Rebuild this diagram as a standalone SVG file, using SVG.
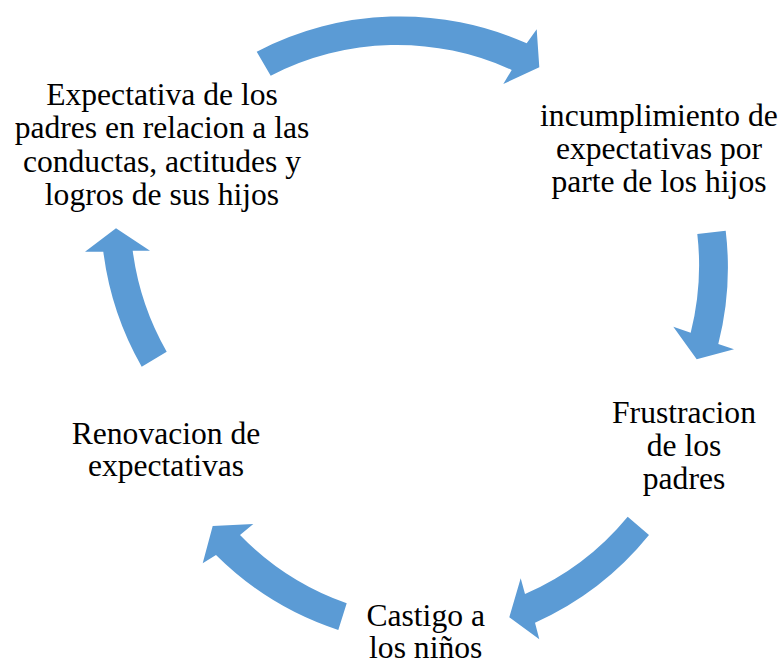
<svg xmlns="http://www.w3.org/2000/svg" width="784" height="663" viewBox="0 0 784 663">
<style>
.arrow{fill:#5B9BD5;stroke:none}
.lbl{font-family:"Liberation Serif","Times New Roman",serif;font-size:31.6px;fill:#000;text-anchor:middle}
</style>
<rect width="784" height="663" fill="#fff"/>
<g id="connectors">
<path class="arrow" d="M256.7,51.7 A310,310 0 0 1 526.7,43.3 L536.7,29.3 L539.3,67.3 L503.3,84 L511.7,70 A275,275 0 0 0 270.7,75.7 Z"/>
<path class="arrow" d="M725.7,230.7 A310,310 0 0 1 718.3,344 L734,349.3 L696.7,359.3 L673.3,326.7 L690.7,332.7 A275,275 0 0 0 697.3,234 Z"/>
<path class="arrow" d="M649,535 A310,310 0 0 1 535,622.7 L539.3,639.3 L509.3,617.3 L520.7,578.3 L525,594 A275,275 0 0 0 627.7,516.7 Z"/>
<path class="arrow" d="M338.3,630 A310,310 0 0 1 216,555 L202.7,563.3 L212.7,526 L253.3,524 L240,535 A275,275 0 0 0 346.7,603.3 Z"/>
<path class="arrow" d="M141.7,366.7 A310,310 0 0 1 103.3,251.7 L85,251.7 L116,228.3 L150,250.7 L132.7,250.7 A275,275 0 0 0 166.7,351.7 Z"/>
</g>
<g id="node-expectativa">
<text class="lbl" x="162" y="105">Expectativa de los</text>
<text class="lbl" x="162" y="138.3">padres en relacion a las</text>
<text class="lbl" x="162" y="171.6">conductas, actitudes y</text>
<text class="lbl" x="162" y="204.9">logros de sus hijos</text>
</g>
<g id="node-incumplimiento">
<text class="lbl" x="659" y="126">incumplimiento de</text>
<text class="lbl" x="659" y="159">expectativas por</text>
<text class="lbl" x="659" y="192">parte de los hijos</text>
</g>
<g id="node-frustracion">
<text class="lbl" x="684" y="423.3">Frustracion</text>
<text class="lbl" x="684" y="456">de los</text>
<text class="lbl" x="684" y="488.7">padres</text>
</g>
<g id="node-castigo">
<text class="lbl" x="425.7" y="625.7">Castigo a</text>
<text class="lbl" x="425.7" y="658.3">los niños</text>
</g>
<g id="node-renovacion">
<text class="lbl" x="166" y="443.5">Renovacion de</text>
<text class="lbl" x="166" y="476">expectativas</text>
</g>
</svg>
